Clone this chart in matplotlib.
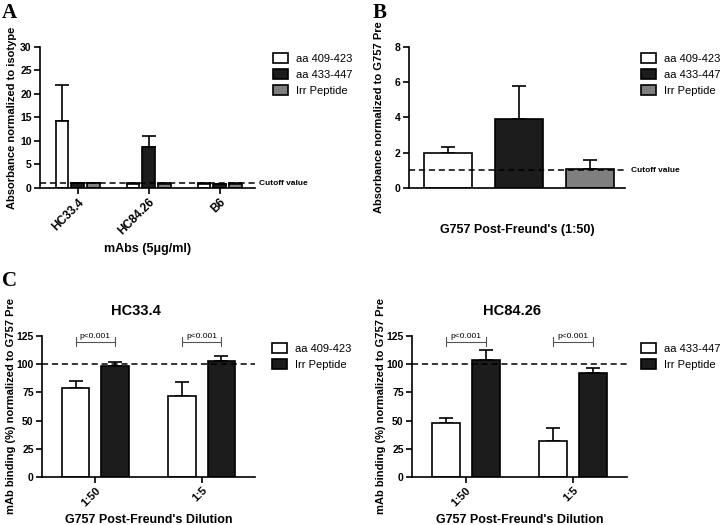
import matplotlib.pyplot as plt
import numpy as np

plt.rcParams['font.family'] = ['Liberation Sans', 'DejaVu Sans']

# panel A data
mabs = ['HC33.4', 'HC84.26', 'B6']
a_labels = ['aa 409-423', 'aa 433-447', 'Irr Peptide']
a_vals = [[14.3, 0.9, 0.9], [1.0, 8.7, 0.8], [1.0, 0.9, 0.9]]
a_errs = [[7.6, 0.1, 0.1], [0.1, 2.3, 0.1], [0.1, 0.1, 0.1]]

# panel B data
b_vals = [2.0, 3.9, 1.1]
b_errs = [0.35, 1.9, 0.48]

# panel C data
dilutions = ['1:50', '1:5']
c1_labels = ['aa 409-423', 'Irr Peptide']
c1_vals = [[79, 72], [98, 103]]
c1_errs = [[6, 12], [4, 4]]
c2_labels = ['aa 433-447', 'Irr Peptide']
c2_vals = [[48, 32], [104, 92]]
c2_errs = [[4.5, 11.5], [9, 4.5]]

colors = ['white', '#1c1c1c', '#7f7f7f']
W, H = 720, 525


def fig_rect(x0, x1, y_top, y_bot):
    return [x0 / W, 1 - y_bot / H, (x1 - x0) / W, (y_bot - y_top) / H]


def style(ax, xsize=7.5):
    for s in ['top', 'right']:
        ax.spines[s].set_visible(False)
    for s in ['left', 'bottom']:
        ax.spines[s].set_linewidth(1.2)
    ax.tick_params(width=1.2, length=4, labelsize=7.5, pad=2)
    ax.tick_params(axis='x', labelsize=xsize)
    for lab in ax.get_yticklabels() + ax.get_xticklabels():
        lab.set_fontweight('bold')


def bars(ax, x, vals, errs, color, width):
    b = ax.bar(x, vals, width, color=color, edgecolor='black', linewidth=1.2, zorder=2)
    ax.errorbar(x, vals, yerr=[np.zeros(len(vals)), errs], fmt='none',
                ecolor='black', elinewidth=1.2, capsize=5, capthick=1.2, zorder=1)
    return b


def legend(ax, handles, labels, x, y):
    ax.legend(handles, labels, loc='upper left', bbox_to_anchor=(x / W, 1 - y / H),
              bbox_transform=ax.figure.transFigure, frameon=False, fontsize=8,
              handlelength=1.35, handleheight=0.9, labelspacing=0.5, handletextpad=0.7,
              borderaxespad=0)


def cutoff(ax, y, xpos):
    ax.axhline(y, color='black', lw=1.1, ls=(0, (4, 2.5)))
    if xpos is not None:
        ax.text(xpos, y, 'Cutoff value', transform=ax.get_yaxis_transform(), fontsize=6,
                fontweight='bold', va='center')


fig = plt.figure(figsize=(7.2, 5.25), dpi=100)

# A
ax = fig.add_axes(fig_rect(40, 255, 47, 188))
x = np.arange(len(mabs))
hs = []
for i in range(3):
    hs.append(bars(ax, x + (i - 1) * 0.22, a_vals[i], a_errs[i], colors[i], 0.18))
cutoff(ax, 1, 1.02)
ax.set_xlim(-0.53, 2.5)
ax.set_ylim(0, 30)
ax.set_yticks([0, 5, 10, 15, 20, 25, 30])
ax.set_xticks(x)
ax.set_xticklabels(mabs, rotation=45, ha='right', rotation_mode='anchor')
ax.set_ylabel('Absorbance normalized to isotype', fontsize=8, fontweight='bold', labelpad=2)
ax.set_xlabel('mAbs (5\u03bcg/ml)', fontsize=9, fontweight='bold', labelpad=4)
style(ax, 8.5)
legend(ax, hs, a_labels, 269, 49)
fig.text(2 / W, 1 - 3 / H, 'A', family='Liberation Serif', fontsize=15, fontweight='bold', va='top')

# B
ax = fig.add_axes(fig_rect(409, 625, 47, 188))
x = np.arange(3)
hs = []
for i in range(3):
    hs.append(bars(ax, [x[i]], [b_vals[i]], [b_errs[i]], colors[i], 0.68))
cutoff(ax, 1, 1.03)
ax.set_xlim(-0.55, 2.49)
ax.set_ylim(0, 8)
ax.set_yticks([0, 2, 4, 6, 8])
ax.set_xticks([])
ax.set_ylabel('Absorbance normalized to G757 Pre', fontsize=8, fontweight='bold', labelpad=8)
ax.set_xlabel("G757 Post-Freund's (1:50)", fontsize=9, fontweight='bold', labelpad=26)
style(ax)
legend(ax, hs, a_labels, 637, 49)
fig.text(373 / W, 1 - 3 / H, 'B', family='Liberation Serif', fontsize=15, fontweight='bold', va='top')


# C
def panel_c(rect, title, labels, vals, errs, leg_x, title_x):
    ax = fig.add_axes(rect)
    x = np.arange(len(dilutions))
    hs = []
    for i in range(2):
        hs.append(bars(ax, x + (i - 0.5) * 0.37, vals[i], errs[i], colors[i], 0.26))
    cutoff(ax, 100, None)
    for j in range(len(dilutions)):
        x0, x1 = x[j] - 0.185, x[j] + 0.185
        ax.plot([x0, x1], [120, 120], color='#555555', lw=0.8, clip_on=False)
        ax.plot([x0, x0], [116, 124], color='#555555', lw=0.8, clip_on=False)
        ax.plot([x1, x1], [116, 124], color='#555555', lw=0.8, clip_on=False)
        ax.text(x[j], 121.5, 'p<0.001', fontsize=6, ha='center', va='bottom')
    ax.set_xlim(-0.5, 1.5)
    ax.set_ylim(0, 125)
    ax.set_yticks([0, 25, 50, 75, 100, 125])
    ax.set_xticks(x)
    ax.set_xticklabels(dilutions, rotation=45, ha='right', rotation_mode='anchor')
    ax.set_ylabel('mAb binding (%) normalized to G757 Pre', fontsize=8, fontweight='bold', labelpad=0)
    ax.set_xlabel("G757 Post-Freund's Dilution", fontsize=9, fontweight='bold', labelpad=4)
    fig.text(title_x / W, 1 - 311 / H, title, fontsize=10.5, fontweight='bold',
             ha='center', va='center')
    style(ax, 8)
    legend(ax, hs, labels, leg_x, 339)


panel_c(fig_rect(42, 255, 336, 477), 'HC33.4', c1_labels, c1_vals, c1_errs, 268, 136)
panel_c(fig_rect(412, 627, 336, 477), 'HC84.26', c2_labels, c2_vals, c2_errs, 637, 512)
fig.text(2 / W, 1 - 271 / H, 'C', family='Liberation Serif', fontsize=15, fontweight='bold', va='top')

fig.savefig('out.png', dpi=100)
